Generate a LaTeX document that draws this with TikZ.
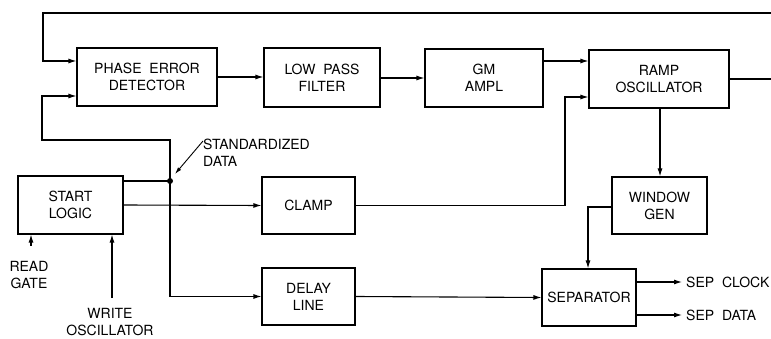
\documentclass[tikz,border=0pt]{standalone}
\usepackage{fontspec}
\setmainfont{TeX Gyre Heros}
\usetikzlibrary{arrows.meta}
\begin{document}
\begin{tikzpicture}[x=1pt,y=-1pt,
  blk/.style={draw,line width=1.1pt,minimum width=#1,inner sep=0pt,align=center,font=\fontsize{14}{17}\selectfont},
  lbl/.style={inner sep=0pt,align=center,font=\fontsize{14}{17}\selectfont},
  wire/.style={line width=1.1pt},
  arr/.style={line width=1.1pt,-{Latex[length=8pt,width=5pt]}}]
\useasboundingbox (0,0) rectangle (771,339);
\node[blk=140pt,minimum height=58pt] (ped) at (147,77) {PHASE \ ERROR\\DETECTOR};
\node[blk=116pt,minimum height=59pt] (lpf) at (322,77.5) {LOW \ PASS\\FILTER};
\node[blk=118pt,minimum height=58pt] (gm) at (484,78) {GM\\AMPL};
\node[blk=140pt,minimum height=58pt] (ramp) at (659,79) {RAMP\\OSCILLATOR};
\node[blk=105pt,minimum height=58pt] (start) at (70.5,205) {START\\LOGIC};
\node[blk=93pt,minimum height=57pt] (clamp) at (308.5,205.5) {CLAMP};
\node[blk=93pt,minimum height=57pt] (delay) at (308.5,296.5) {DELAY\\LINE};
\node[blk=95pt,minimum height=57pt] (win) at (659.5,205.5) {WINDOW\\GEN};
\node[blk=94pt,minimum height=57pt] (sep) at (589,297.5) {SEPARATOR};
\coordinate (dot) at (170,181);
\coordinate (edgeA) at (771,13);
\coordinate (edgeB) at (771,79);
\coordinate (clk) at (682,282);
\coordinate (dat) at (682,315);
\coordinate (rg) at (31,246);
\coordinate (wo) at (112,298);
\coordinate (sdl) at (203,141);
\node[lbl,anchor=west] (clkt) at (686,282) {SEP \ CLOCK};
\node[lbl,anchor=west] (datt) at (686,315) {SEP \ DATA};
\node[lbl] (rgt) at (29,275) {READ\\GATE};
\node[lbl] (wot) at (110,322) {WRITE\\OSCILLATOR};
\node[lbl,anchor=west,align=left] (sdt) at (203,153) {STANDARDIZED\\DATA};
\draw[arr] (edgeA) -- (43,13) |- (ped.west |- 0,61);
\draw[arr] (ped.east |- 0,77) -- (lpf.west |- 0,77);
\draw[arr] (lpf.east |- 0,78) -- (gm.west |- 0,78);
\draw[arr] (gm.east |- 0,61) -- (ramp.west |- 0,61);
\draw[wire] (ramp.east) -- (edgeB);
\draw[arr] (ramp.south -| 660,0) -- (win.north -| 660,0);
\draw[arr] (win.west |- 0,207) -| (sep.north -| 588,0);
\draw[arr] (sep.east |- clk) -- (clk);
\draw[arr] (sep.east |- dat) -- (dat);
\draw[wire] (start.east |- dot) -- (dot);
\draw[arr] (dot) -- (170,140) -- (42,140) |- (ped.west |- 0,96);
\draw[arr] (dot) |- (delay.west);
\draw[arr] (start.east) -- (clamp.west);
\draw[arr] (clamp.east) -- (565,205.5) |- (ramp.west |- 0,97);
\draw[arr] (delay.east) -- (sep.west);
\draw[arr] (rg) -- (start.south -| rg);
\draw[arr] (wo) -- (start.south -| wo);
\draw[line width=0.9pt,-{Latex[length=7pt,width=4pt]}] (sdl) -- (175,174);
\fill (dot) circle (3pt);
\end{tikzpicture}
\end{document}
